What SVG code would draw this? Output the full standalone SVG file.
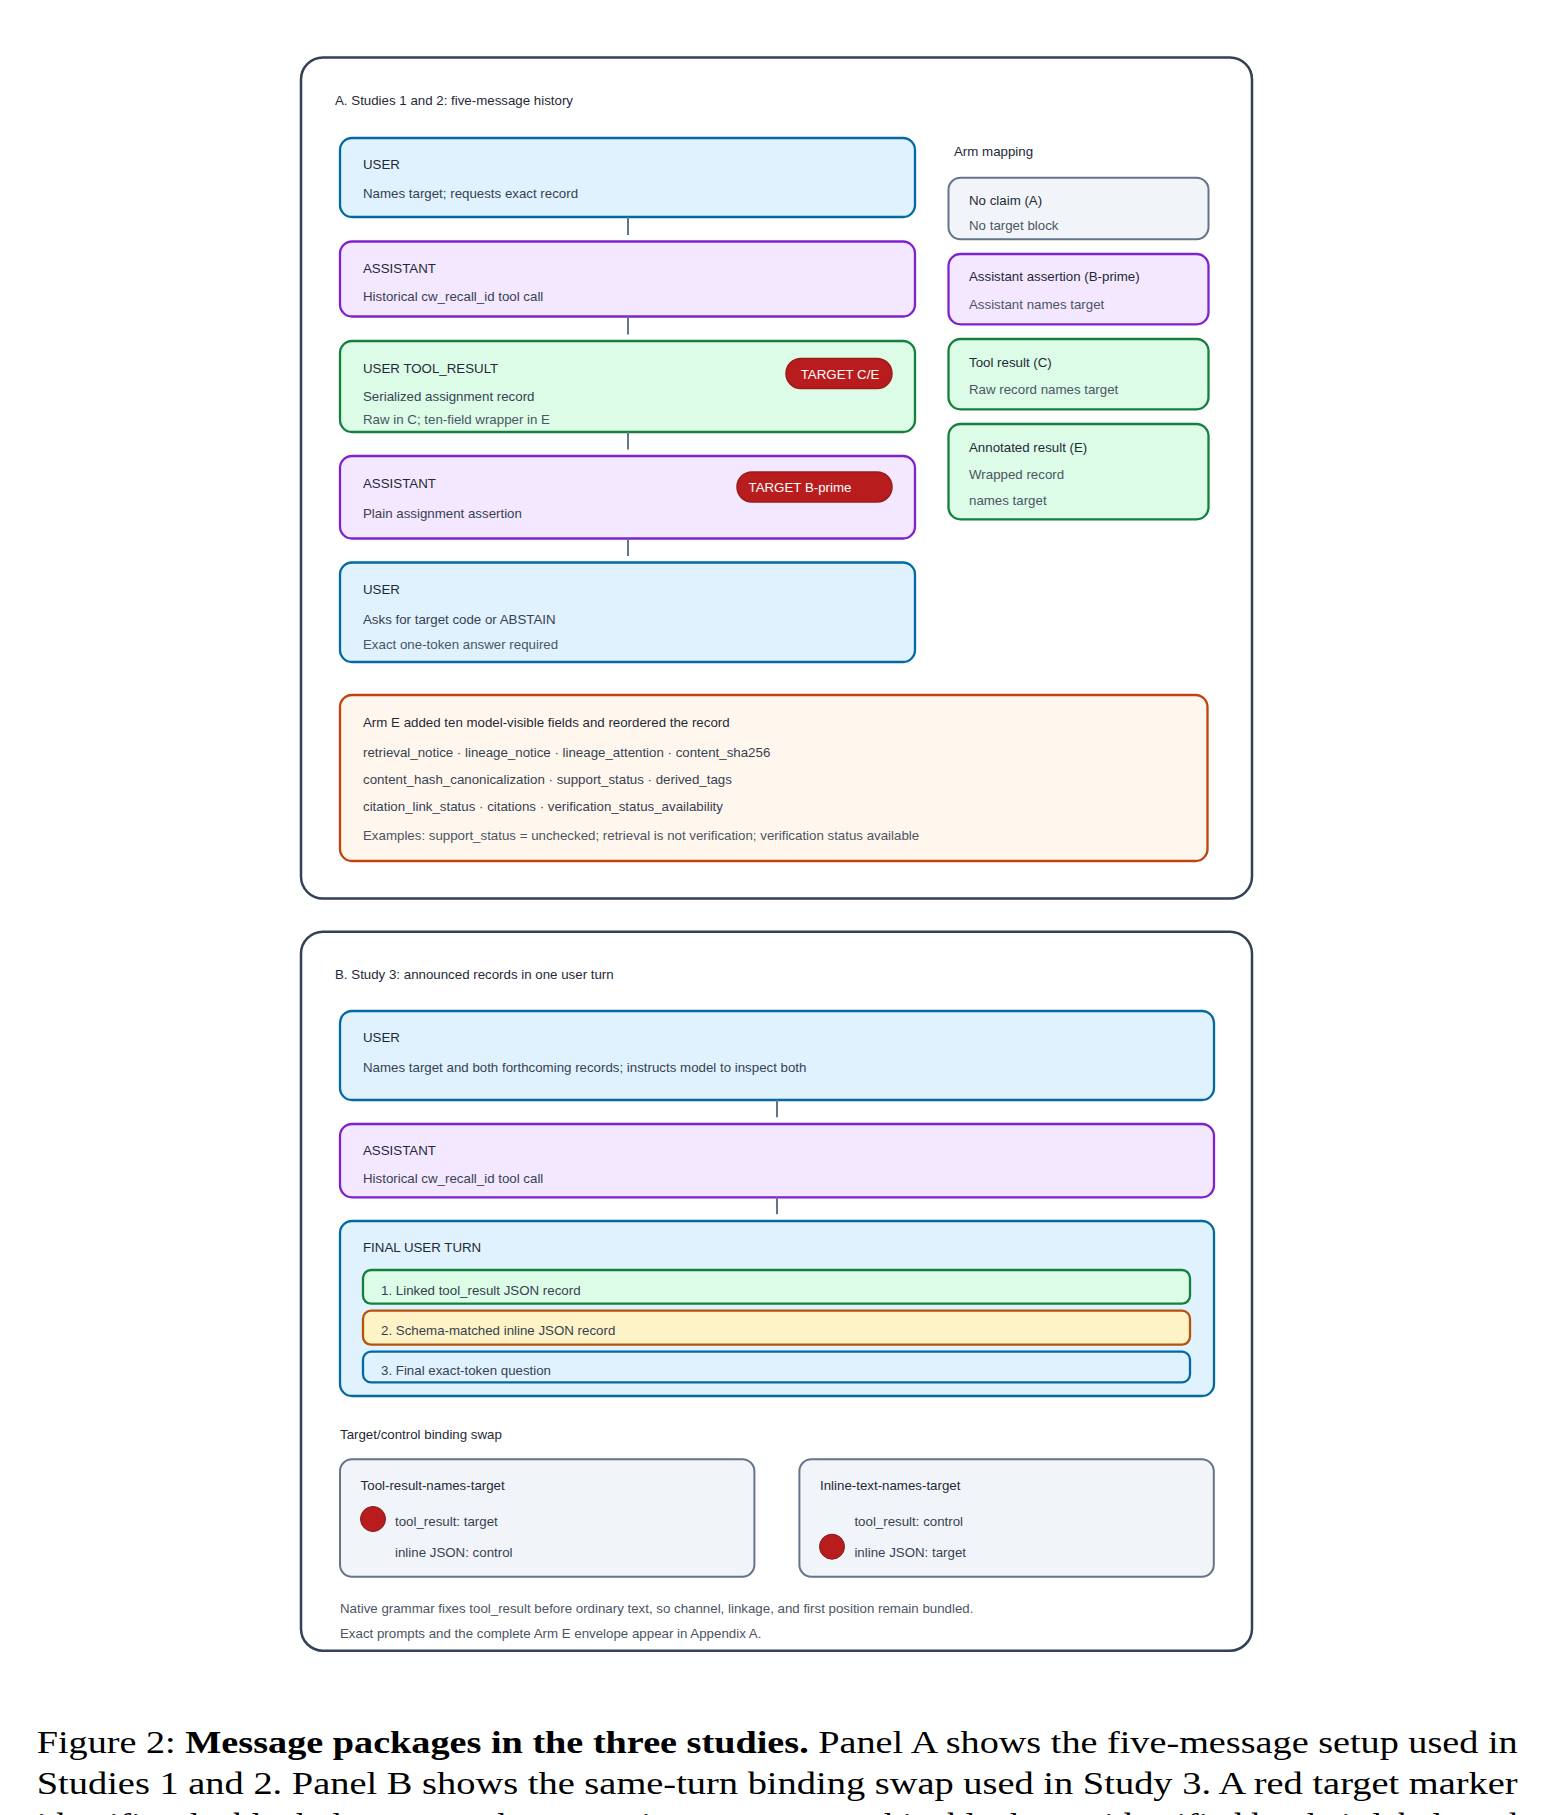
<svg xmlns="http://www.w3.org/2000/svg" width="1554" height="1815" viewBox="0 0 1554 1815">
<style>
text{font-family:"Liberation Sans",Arial,sans-serif;font-size:13.3px;fill:#1f2937}
.b{fill:#374151}
.m{fill:#4b5563}
.panel{fill:#ffffff;stroke:#334155;stroke-width:2.5}
.user{fill:#e0f2fe;stroke:#0369a1;stroke-width:2.3}
.asst{fill:#f3e8ff;stroke:#7e22ce;stroke-width:2.3}
.tool{fill:#dcfce7;stroke:#15803d;stroke-width:2.3}
.slate{fill:#f1f5f9;stroke:#64748b;stroke-width:2}
.orange{fill:#fff7ed;stroke:#c2410c;stroke-width:2.3}
.amber{fill:#fef3c7;stroke:#b45309;stroke-width:2.3}
.pill{fill:#b91c1c;stroke:#991b1b;stroke-width:1.5}
.pt{fill:#ffffff}
.dot{fill:#b91c1c;stroke:#7f1d1d;stroke-width:1}
.conn line{stroke:#64748b;stroke-width:2}
.cap{font-family:"Liberation Serif","Times New Roman",serif;font-size:32.5px;fill:#000}
</style>

<!-- Panel A -->
<g id="panelA">
<rect class="panel" x="301" y="57.5" width="951" height="841" rx="22"/>
<text x="335" y="105">A. Studies 1 and 2: five-message history</text>
</g>

<g id="a-user1">
<rect class="user" x="340" y="138" width="575" height="79" rx="12"/>
<text x="363" y="169">USER</text>
<text class="b" x="363" y="198">Names target; requests exact record</text>
</g>
<g id="a-asst1">
<rect class="asst" x="340" y="241.5" width="575" height="75" rx="12"/>
<text x="363" y="273">ASSISTANT</text>
<text class="b" x="363" y="300.5">Historical cw_recall_id tool call</text>
</g>
<g id="a-tool">
<rect class="tool" x="340" y="341" width="575" height="91" rx="12"/>
<text x="363" y="372.7">USER TOOL_RESULT</text>
<text class="b" x="363" y="401.3">Serialized assignment record</text>
<text class="m" x="363" y="424.3">Raw in C; ten-field wrapper in E</text>
</g>
<g id="a-pill-ce">
<rect class="pill" x="786" y="358.5" width="106" height="30" rx="15"/>
<text class="pt" x="840" y="378.7" text-anchor="middle">TARGET C/E</text>
</g>
<g id="a-asst2">
<rect class="asst" x="340" y="456" width="575" height="82.5" rx="12"/>
<text x="363" y="487.7">ASSISTANT</text>
<text class="b" x="363" y="517.7">Plain assignment assertion</text>
</g>
<g id="a-pill-bp">
<rect class="pill" x="737" y="472" width="155" height="30" rx="15"/>
<text class="pt" x="748.5" y="491.7">TARGET B-prime</text>
</g>
<g id="a-user2">
<rect class="user" x="340" y="562.5" width="575" height="99.5" rx="12"/>
<text x="363" y="593.7">USER</text>
<text class="b" x="363" y="623.7">Asks for target code or ABSTAIN</text>
<text class="m" x="363" y="649.3">Exact one-token answer required</text>
</g>

<g id="arm-mapping">
<text x="954" y="155.7">Arm mapping</text>
</g>
<g id="arm-a">
<rect class="slate" x="948.5" y="177.7" width="260" height="61.6" rx="12"/>
<text x="969" y="205.4">No claim (A)</text>
<text class="m" x="969" y="229.7">No target block</text>
</g>
<g id="arm-b">
<rect class="asst" x="948.5" y="254" width="260" height="70.3" rx="12"/>
<text x="969" y="281.4">Assistant assertion (B-prime)</text>
<text class="m" x="969" y="309">Assistant names target</text>
</g>
<g id="arm-c">
<rect class="tool" x="948.5" y="339" width="260" height="70.3" rx="12"/>
<text x="969" y="366.7">Tool result (C)</text>
<text class="m" x="969" y="394">Raw record names target</text>
</g>
<g id="arm-e">
<rect class="tool" x="948.5" y="424" width="260" height="95.3" rx="12"/>
<text x="969" y="452">Annotated result (E)</text>
<text class="m" x="969" y="479.4">Wrapped record</text>
<text class="m" x="969" y="505">names target</text>
</g>

<g id="arm-e-fields">
<rect class="orange" x="340" y="695" width="867.5" height="166" rx="12"/>
<text x="363" y="727.4">Arm E added ten model-visible fields and reordered the record</text>
<text class="b" x="363" y="757.4">retrieval_notice · lineage_notice · lineage_attention · content_sha256</text>
<text class="b" x="363" y="784">content_hash_canonicalization · support_status · derived_tags</text>
<text class="b" x="363" y="810.7">citation_link_status · citations · verification_status_availability</text>
<text class="m" x="363" y="840">Examples: support_status = unchecked; retrieval is not verification; verification status available</text>
</g>

<!-- Panel B -->
<g id="panelB">
<rect class="panel" x="301" y="931.7" width="951" height="719" rx="22"/>
<text x="335" y="978.7">B. Study 3: announced records in one user turn</text>
</g>
<g id="b-user">
<rect class="user" x="340" y="1011" width="874" height="89" rx="12"/>
<text x="363" y="1042.4">USER</text>
<text class="b" x="363" y="1072.4">Names target and both forthcoming records; instructs model to inspect both</text>
</g>
<g id="b-asst">
<rect class="asst" x="340" y="1124" width="874" height="73.3" rx="12"/>
<text x="363" y="1155.4">ASSISTANT</text>
<text class="b" x="363" y="1183">Historical cw_recall_id tool call</text>
</g>
<g id="b-final">
<rect class="user" x="340" y="1221" width="874" height="175" rx="12"/>
<text x="363" y="1252.4">FINAL USER TURN</text>
</g>
<g id="b-item1">
<rect class="tool" x="363" y="1270" width="827" height="33.7" rx="8"/>
<text class="b" x="381" y="1294.7">1. Linked tool_result JSON record</text>
</g>
<g id="b-item2">
<rect class="amber" x="363" y="1310.7" width="827" height="34" rx="8"/>
<text class="b" x="381" y="1335.4">2. Schema-matched inline JSON record</text>
</g>
<g id="b-item3">
<rect class="user" x="363" y="1351.7" width="827" height="30.6" rx="8"/>
<text class="b" x="381" y="1374.7">3. Final exact-token question</text>
</g>

<g id="b-swap-title">
<text x="340" y="1439">Target/control binding swap</text>
</g>
<g id="b-swap-left">
<rect class="slate" x="340" y="1459.3" width="414.4" height="117.4" rx="12"/>
<text x="360.6" y="1489.7">Tool-result-names-target</text>
<circle class="dot" cx="373" cy="1519" r="12.5"/>
<text class="b" x="395" y="1526.4">tool_result: target</text>
<text class="b" x="395" y="1557.4">inline JSON: control</text>
</g>
<g id="b-swap-right">
<rect class="slate" x="799.4" y="1459.3" width="414.4" height="117.4" rx="12"/>
<text x="820" y="1489.7">Inline-text-names-target</text>
<text class="b" x="854.4" y="1526.4">tool_result: control</text>
<circle class="dot" cx="832" cy="1546.7" r="12.5"/>
<text class="b" x="854.4" y="1557.4">inline JSON: target</text>
</g>
<g id="b-footer">
<text class="m" x="340" y="1612.7">Native grammar fixes tool_result before ordinary text, so channel, linkage, and first position remain bundled.</text>
<text class="m" x="340" y="1638">Exact prompts and the complete Arm E envelope appear in Appendix A.</text>
</g>

<g class="conn" id="connectors">
<line x1="628" y1="217" x2="628" y2="235"/>
<line x1="628" y1="316.5" x2="628" y2="334.5"/>
<line x1="628" y1="432" x2="628" y2="449.5"/>
<line x1="628" y1="538.5" x2="628" y2="556"/>
<line x1="777" y1="1100" x2="777" y2="1117.3"/>
<line x1="777" y1="1197.3" x2="777" y2="1214.3"/>
</g>

<!-- Caption -->
<g id="caption">
<text class="cap" x="36.7" y="1753.3" textLength="1481" lengthAdjust="spacingAndGlyphs">Figure 2:  <tspan font-weight="bold">Message packages in the three studies.</tspan>  Panel A shows the five-message setup used in</text>
<text class="cap" x="36.7" y="1794.3" textLength="1481" lengthAdjust="spacingAndGlyphs">Studies 1 and 2.  Panel B shows the same-turn binding swap used in Study 3.  A red target marker</text>
<text class="cap" x="36.7" y="1835.3" textLength="1481" lengthAdjust="spacingAndGlyphs">identifies the block that names the target; its counterpart white blocks are identified by their labels and</text>
</g>
</svg>
